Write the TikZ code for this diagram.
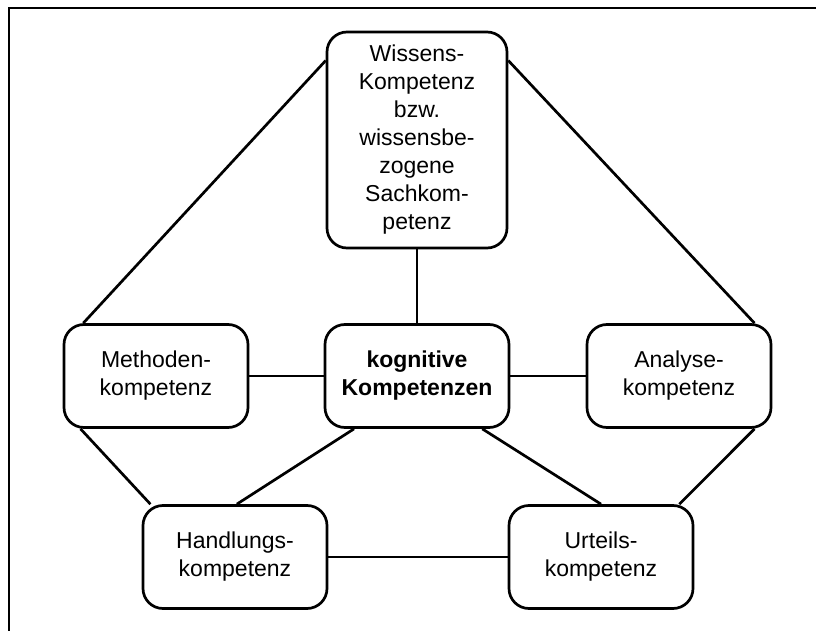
\documentclass[tikz,border=0pt]{standalone}
\usepackage{fontspec}
\setmainfont{Liberation Sans}
\usetikzlibrary{positioning, calc}

\begin{document}
\begin{tikzpicture}[
      x=1pt, y=-1pt,
      every node/.style={font=\fontsize{23}{28}\selectfont},
      komp/.style={draw, line width=2.7pt, rounded corners=20pt, fill=white, minimum width=184pt, minimum height=103pt, align=center, inner sep=2pt},
      link/.style={line width=2.7pt},
    ]
    \useasboundingbox (0,0) rectangle (816,631);
    % Frame
    \draw[line width=1.8pt] (816,8) -- (9,8) -- (9,631);

    % Competences
    \node[komp, minimum width=180pt, minimum height=216pt] (wissen) at (417,140) {Wissens-\\Kompetenz\\bzw.\\wissensbe-\\zogene\\Sachkom-\\petenz};
    \node[komp] (methode) at (156,376) {Methoden-\\kompetenz};
    \node[komp] (kogn) at (417,376) {\textbf{kognitive}\\\textbf{Kompetenzen}};
    \node[komp] (analyse) at (679,376) {Analyse-\\kompetenz};
    \node[komp] (handlung) at (235,557) {Handlungs-\\kompetenz};
    \node[komp] (urteil) at (601,557) {Urteils-\\kompetenz};

    % Connections
    \draw[link] (wissen.139) -- (methode.144);
    \draw[link] (wissen.41) -- (analyse.35);
    \draw[link] (wissen) -- (kogn);
    \draw[link] (methode) -- (kogn);
    \draw[link] (kogn) -- (analyse);
    \draw[link] (methode.215) -- (handlung.148);
    \draw[link] (kogn.220) -- (handlung.88);
    \draw[link] (kogn.321) -- (urteil.north);
    \draw[link] (analyse.325) -- (urteil.34);
    \draw[link] (handlung) -- (urteil);
  \end{tikzpicture}
\end{document}
